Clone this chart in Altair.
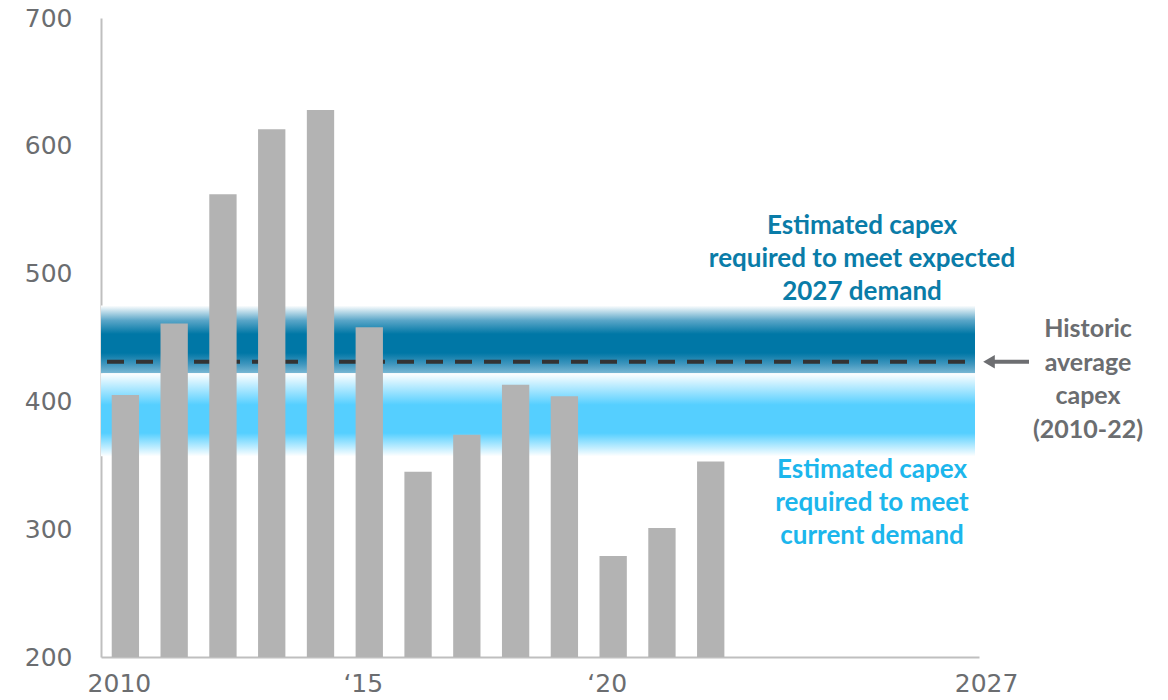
import altair as alt
import pandas as pd

years = [str(y) for y in range(2010, 2028)]
bar_years = [str(y) for y in range(2010, 2023)]
capex = [405, 461, 562, 613, 628, 458, 345, 374, 413, 404, 279, 301, 353]
y_ticks = [200, 300, 400, 500, 600, 700]

hist_avg = 431
dark_band = (422, 475)
light_band = (357, 422)

W, H = 878, 639
FONT = "Lato"
TICK_FONT = "DejaVu Sans"
GREY_TXT = "#6b6d70"

bars_df = pd.DataFrame({"year": bar_years, "capex": capex, "base": [200] * len(capex)})

xscale = alt.Scale(domain=years, paddingInner=0.44, paddingOuter=0.22)
yscale = alt.Scale(domain=[200, 700], zero=False, nice=False)

label_expr = "datum.value == '2010' ? '2010' : datum.value == '2015' ? '\u201815' : datum.value == '2020' ? '\u201820' : ''"

x_enc = alt.X("year:N", scale=xscale, sort=years,
              axis=alt.Axis(title=None, labelExpr=label_expr, ticks=False, labelAngle=0,
                            labelFontSize=25, labelColor=GREY_TXT, labelFont=TICK_FONT,
                            labelPadding=14, domainColor="#BFBFBF", domainWidth=2,
                            labelFlush=False, labelOffset=-6))
y_axis = alt.Axis(title=None, values=y_ticks, ticks=False, grid=False, labelFontSize=25,
                  labelColor=GREY_TXT, labelFont=TICK_FONT, labelPadding=29,
                  domainColor="#BFBFBF", domainWidth=2)

dark_grad = alt.Gradient(gradient="linear", x1=0, x2=0, y1=0, y2=1, stops=[
    alt.GradientStop(color="#ffffff", offset=0),
    alt.GradientStop(color="#5aa6c8", offset=0.22),
    alt.GradientStop(color="#0077a6", offset=0.42),
    alt.GradientStop(color="#0077a6", offset=0.70),
    alt.GradientStop(color="#3d95bd", offset=0.86),
    alt.GradientStop(color="#7ab8d4", offset=1),
])
light_grad = alt.Gradient(gradient="linear", x1=0, x2=0, y1=0, y2=1, stops=[
    alt.GradientStop(color="#ffffff", offset=0),
    alt.GradientStop(color="#55cfff", offset=0.38),
    alt.GradientStop(color="#55cfff", offset=0.72),
    alt.GradientStop(color="#ffffff", offset=1),
])

band_df = pd.DataFrame({"lo": [dark_band[0], light_band[0]], "hi": [dark_band[1], light_band[1]],
                        "kind": ["dark", "light"]})

dark = alt.Chart(band_df[band_df.kind == "dark"]).mark_rect(fill=dark_grad).encode(
    x=alt.value(0), x2=alt.value(W - 4),
    y=alt.Y("hi:Q", scale=yscale, axis=y_axis), y2="lo:Q")
light = alt.Chart(band_df[band_df.kind == "light"]).mark_rect(fill=light_grad).encode(
    x=alt.value(0), x2=alt.value(W - 4),
    y=alt.Y("hi:Q", scale=yscale), y2="lo:Q")

avg_df = pd.DataFrame({"v": [hist_avg]})
avg_rule = alt.Chart(avg_df).mark_rule(color="#333333", strokeWidth=4, strokeDash=[17, 12],
                                       strokeDashOffset=-6).encode(
    y=alt.Y("v:Q", scale=yscale), x=alt.value(0), x2=alt.value(W - 8))

bars = alt.Chart(bars_df).mark_bar(color="#b3b3b3").encode(
    x=x_enc,
    y=alt.Y("capex:Q", scale=yscale, axis=y_axis),
    y2="base:Q")

label_2027 = alt.Chart(pd.DataFrame({"year": ["2027"], "t": ["2027"]})).mark_text(
    font=TICK_FONT, fontSize=25, color=GREY_TXT, baseline="top", dx=32).encode(
    x=alt.X("year:N", scale=xscale, sort=years), y=alt.value(H + 15), text="t:N")

def note(lines, x, y, color, size=26, lh=33):
    return alt.Chart(pd.DataFrame({"t": [lines]})).mark_text(
        font=FONT, fontSize=size, fontWeight="bold", color=color, align="center",
        baseline="middle", lineHeight=lh).encode(
        x=alt.value(x), y=alt.value(y), text="t")

n1 = note(["Estimated capex", "required to meet expected", "2027 demand"], 862 - 101, 226 - 18, "#0a7ca8")
n2 = note(["Estimated capex", "required to meet", "current demand"], 872 - 101, 470 - 18, "#1cb6ec")
n3 = note(["Historic", "average", "capex", "(2010-22)"], 1088 - 101, 329 - 18, GREY_TXT, size=25, lh=33.7)

arrow_df = pd.DataFrame({"v": [hist_avg]})
arrow_line = alt.Chart(arrow_df).mark_rule(color="#6d6e71", strokeWidth=4).encode(
    y=alt.Y("v:Q", scale=yscale), x=alt.value(990 - 101), x2=alt.value(1029 - 101))
arrow_head = alt.Chart(arrow_df).mark_point(shape="triangle-left", filled=True, color="#6d6e71",
                                            size=180, opacity=1).encode(
    y=alt.Y("v:Q", scale=yscale), x=alt.value(989 - 101))

chart = alt.layer(dark, light, avg_rule, bars, label_2027, n1, n2, n3, arrow_line, arrow_head).properties(
    width=W, height=H,
    autosize=alt.AutoSizeParams(type="none"),
    padding={"left": 101, "top": 18, "right": 1168 - 101 - W, "bottom": 700 - 18 - H},
).configure_view(stroke=None)

chart.save("out.html", embed_options={"renderer": "svg", "actions": False})
